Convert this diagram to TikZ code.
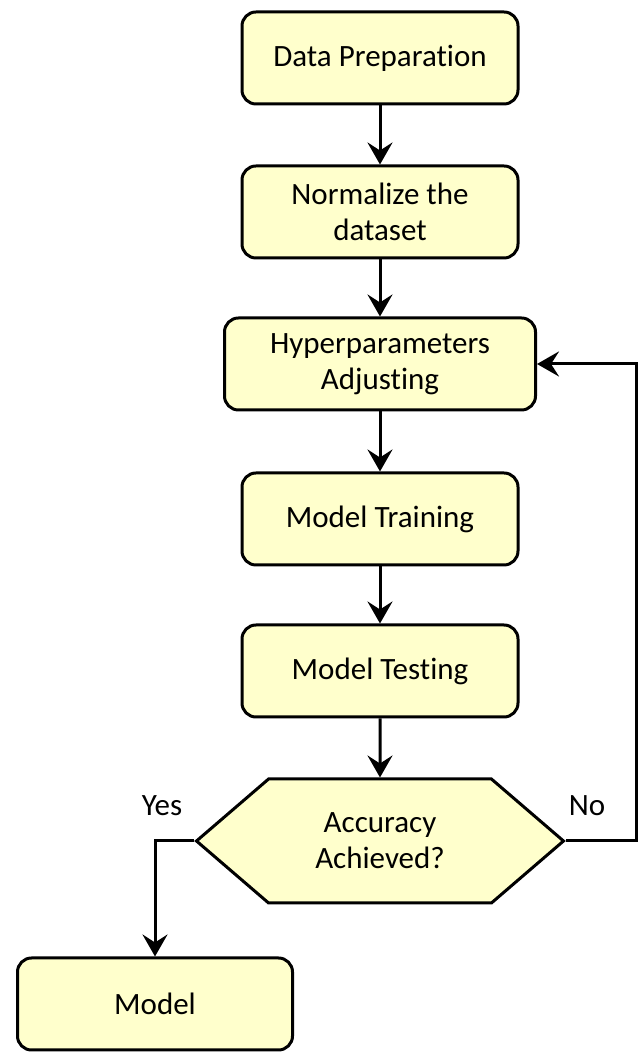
\documentclass[tikz,border=0pt]{standalone}
\usepackage{fontspec}
\setmainfont{Carlito}[Ligatures=NoCommon]
\usetikzlibrary{arrows.meta,shapes.symbols}

\definecolor{boxfill}{RGB}{255,255,204}

\tikzset{
    stepbox/.style={draw, line width=3pt, fill=boxfill, rounded corners=14pt,
        minimum width=276pt, minimum height=92pt, align=center,
        font=\fontsize{31}{36}\selectfont},
    decisionbox/.style={draw, line width=3pt, fill=boxfill, shape=signal,
        signal to=west and east, signal pointer angle=81.4,
        minimum width=367pt, minimum height=124pt, align=center, inner sep=0pt,
        font=\fontsize{31}{36}\selectfont},
    flow/.style={line width=3pt, -{Stealth[length=22pt, width=25pt, inset=8pt]}},
    answer/.style={font=\fontsize{31}{36}\selectfont}
}

\begin{document}
\begin{tikzpicture}[x=1pt, y=1pt]
        \useasboundingbox (0, 0) rectangle (638, 1054);

        % Pasos del proceso
        \node[stepbox] (prep) at (380, 996) {Data Preparation};
        \node[stepbox] (norm) at (380, 842) {Normalize the\\dataset};
        \node[stepbox, minimum width=311pt] (hyper) at (380, 690) {Hyperparameters\\Adjusting};
        \node[stepbox] (train) at (380, 535) {Model Training};
        \node[stepbox] (test) at (380, 383) {Model Testing};

        % Decision
        \node[decisionbox] (acc) at (380, 213) {Accuracy\\Achieved?};

        % Resultado final
        \node[stepbox, minimum width=275pt] (model) at (155, 50) {Model};

        % Flechas principales
        \draw[flow] (prep) -- (norm);
        \draw[flow] (norm) -- (hyper);
        \draw[flow] (hyper) -- (train);
        \draw[flow] (train) -- (test);
        \draw[flow] (test) -- (acc);

        % Ramas de la decision
        \draw[flow] (acc.east) -- ++(71, 0) |- (hyper.east);
        \draw[flow] (acc.west) -| (model.north);

        % Etiquetas Yes / No
        \node[answer] (yes) at (162, 248) {Yes};
        \node[answer] (no) at (587, 248) {No};

    \end{tikzpicture}
\end{document}
